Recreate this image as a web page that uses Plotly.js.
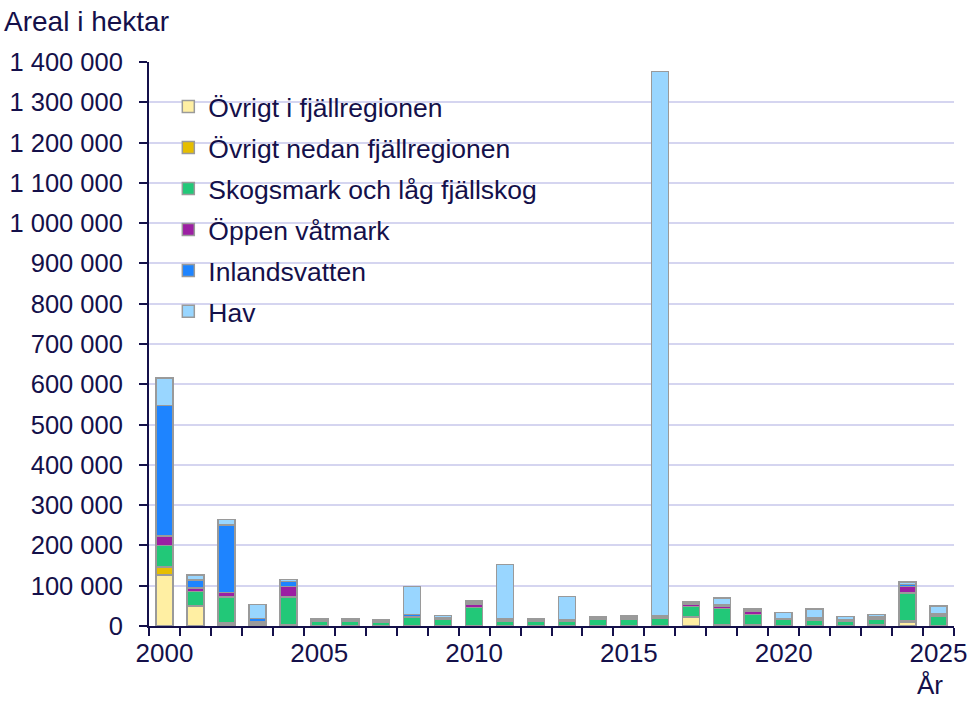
<!DOCTYPE html>
<html>
<head>
<meta charset="utf-8">
<script src="https://cdn.plot.ly/plotly-3.0.1.min.js"></script>
<style>html,body{margin:0;padding:0;background:#fff;}#chart{width:971px;height:709px;}</style>
</head>
<body>
<div id="chart"></div>
<script>
var years = [2000,2001,2002,2003,2004,2005,2006,2007,2008,2009,2010,2011,2012,2013,2014,2015,2016,2017,2018,2019,2020,2021,2022,2023,2024,2025];
var yearLabels = [2000,2005,2010,2015,2020,2025];

var ovrigtFjall = [127000,49000,3000,1000,1000,0,0,0,0,0,0,0,0,0,0,0,0,22000,1000,1000,0,0,0,1000,9000,0];
var ovrigtNedan = [19000,1000,5000,1000,2000,1000,1000,500,1000,1000,1000,1000,1000,1000,1000,1000,1000,1000,1000,1000,1000,1000,1000,2000,3000,1000];
var skogsmark = [54000,36000,64000,5000,69000,11000,10000,10000,20000,16000,45000,12000,11000,10000,16000,16000,18000,26000,42000,26000,15000,14000,11000,14000,70000,24000];
var vatmark = [24000,8000,11000,4000,26000,2000,2000,1500,3000,2000,8000,2000,2000,2000,2000,2000,2000,4000,5000,8000,2000,3000,2000,2000,16000,3000];
var inlandsvatten = [323000,20000,168000,8000,13000,2000,2000,1500,4000,2000,3500,2000,2000,2000,2000,3000,4000,3000,3000,4000,1000,3000,2000,3000,5000,3000];
var hav = [68000,12000,13000,35000,5000,2000,2000,1500,70000,5000,4000,136000,2000,58000,2000,4000,1352000,4000,18000,4000,14000,21000,7000,7000,6000,19000];

var seriesNames = ["Övrigt i fjällregionen","Övrigt nedan fjällregionen","Skogsmark och låg fjällskog","Öppen våtmark","Inlandsvatten","Hav"];
var seriesColors = ["#FFEFA3","#E6BE00","#22C878","#9C1FA3","#1E84FF","#99D6FF"];
var seriesValues = [ovrigtFjall, ovrigtNedan, skogsmark, vatmark, inlandsvatten, hav];

var navy = "#14104a";
var FONT = "Liberation Sans, Arial, sans-serif";

var traces = seriesValues.map(function(v, i){
  return {
    type: "bar", x: years, y: v, name: seriesNames[i],
    legendgroup: "g" + i,
    width: 0.55,
    marker: {color: seriesColors[i], line: {color: "#9a9a9a", width: 1.5}},
    hoverinfo: "x+y+name"
  };
});
traces.push({
  type: "scatter", mode: "markers", x: years, y: years.map(function(){return 0;}),
  xaxis: "x2", marker: {opacity: 0, size: 1}, showlegend: false, hoverinfo: "skip"
});

var layout = {
  width: 971, height: 709,
  margin: {l: 149, r: 17, t: 62, b: 83},
  paper_bgcolor: "#fff", plot_bgcolor: "#fff",
  barmode: "stack",
  separators: ", ",
  font: {family: FONT, size: 26, color: navy},
  showlegend: true,
  legend: {
    x: 0.024, y: 0.963, xanchor: "left", yanchor: "top",
    traceorder: "grouped", tracegroupgap: 3.5,
    font: {family: FONT, size: 26.5, color: navy},
    bgcolor: "rgba(0,0,0,0)"
  },
  xaxis: {
    type: "linear", range: [1999.5, 2025.5],
    tickmode: "linear", tick0: 1999.5, dtick: 1,
    ticks: "outside", ticklen: 8, tickwidth: 2, tickcolor: navy,
    showticklabels: false,
    showline: true, linewidth: 2, linecolor: navy,
    showgrid: false, zeroline: false, fixedrange: true
  },
  xaxis2: {
    type: "linear", range: [1999.5, 2025.5], overlaying: "x", anchor: "y", side: "bottom",
    tickmode: "array", tickvals: yearLabels, ticktext: yearLabels.map(String),
    ticks: "", ticklabelstandoff: 9,
    showline: false, showgrid: false, zeroline: false,
    tickfont: {family: FONT, size: 26, color: navy}
  },
  yaxis: {
    range: [0, 1400000], tickmode: "linear", tick0: 0, dtick: 100000,
    tickformat: ",d",
    ticks: "outside", ticklen: 8, tickwidth: 2, tickcolor: navy,
    ticklabelstandoff: 11,
    showline: true, linewidth: 2, linecolor: navy,
    showgrid: true, gridcolor: "#D5D5F0", gridwidth: 2,
    zeroline: false,
    tickfont: {family: FONT, size: 25.5, color: navy}
  },
  annotations: [
    {text: "Areal i hektar", xref: "paper", yref: "paper", x: -0.183, y: 1 + (62-22)/564, xanchor: "left", yanchor: "middle", showarrow: false, font: {family: FONT, size: 28, color: navy}},
    {text: "År", xref: "paper", yref: "paper", x: (930-149)/805, y: -(685-626)/564, xanchor: "center", yanchor: "middle", showarrow: false, font: {family: FONT, size: 26, color: navy}}
  ]
};

Plotly.newPlot("chart", traces, layout, {displayModeBar: false, staticPlot: true});
</script>
</body>
</html>
